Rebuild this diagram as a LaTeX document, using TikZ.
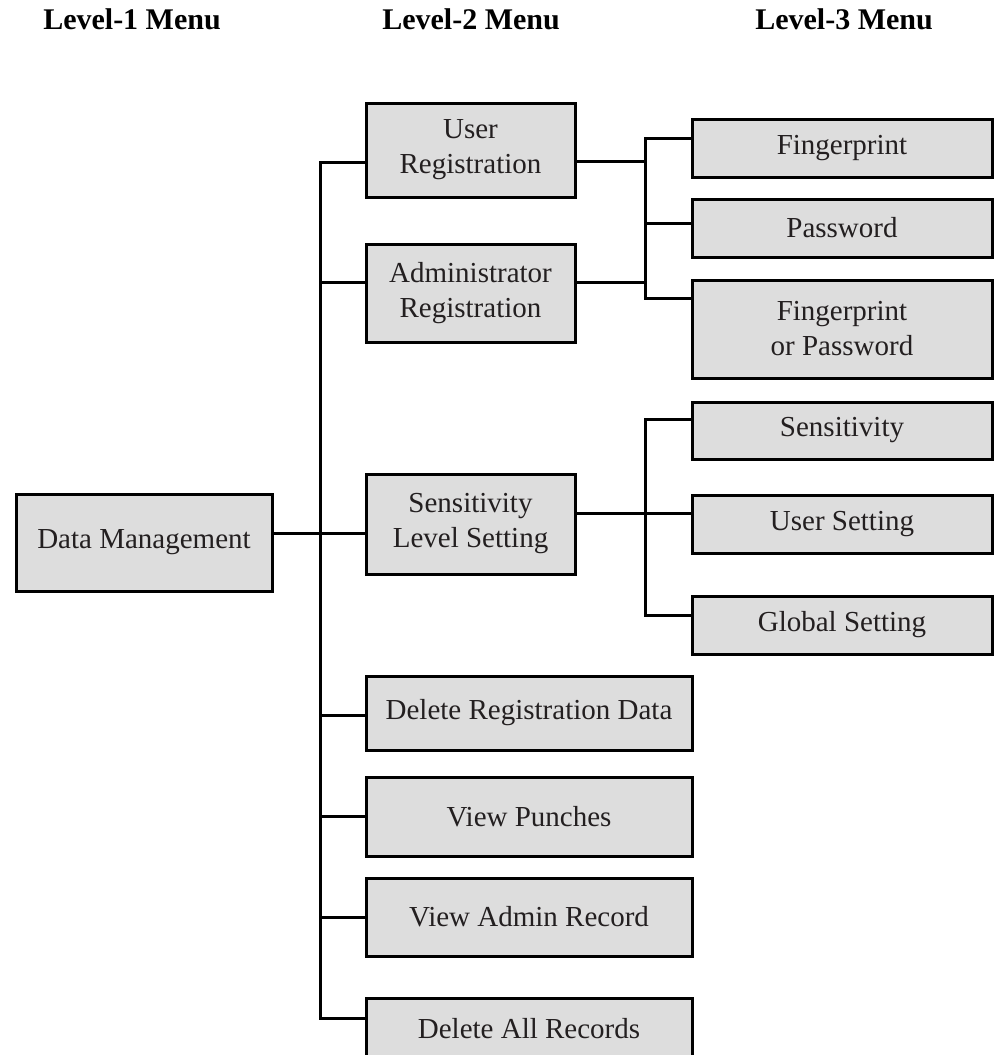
\documentclass[tikz,border=0pt]{standalone}
\usepackage{fontspec}
\setmainfont{Liberation Serif}
\definecolor{boxgray}{HTML}{DDDDDD}
\definecolor{txt}{HTML}{231F20}
\begin{document}
\begin{tikzpicture}[x=1pt,y=-1pt,
  menubox/.style={draw=black, line width=3pt, fill=boxgray, inner sep=0pt,
    align=center, text=txt, font=\fontsize{29}{35}\selectfont},
  head/.style={anchor=base, font=\fontsize{30}{34}\selectfont\bfseries, text=black},
  wire/.style={line width=3pt, line join=miter, line cap=rect}]
\clip (0,0) rectangle (995,1055);
\useasboundingbox (0,0) rectangle (995,1055);

% headers
\node[head] (h1) at (132,29) {Level-1 Menu};
\node[head] (h2) at (471,29) {Level-2 Menu};
\node[head] (h3) at (844,29) {Level-3 Menu};

% level 1
\node[menubox, minimum width=256pt, minimum height=97pt] (dm) at (144,542.5) {Data Management};

% level 2
\node[menubox, minimum width=209pt, minimum height=94pt] (ur) at (470.5,150) {User\\Registration};
\node[menubox, minimum width=209pt, minimum height=98pt] (ar) at (470.5,293) {Administrator\\Registration};
\node[menubox, minimum width=209pt, minimum height=100pt] (sls) at (470.5,524) {Sensitivity\\Level Setting};
\node[menubox, minimum width=326pt, minimum height=74pt] (drd) at (529,713) {Delete Registration Data};
\node[menubox, minimum width=326pt, minimum height=79pt] (vp) at (529,816.5) {View Punches};
\node[menubox, minimum width=326pt, minimum height=78pt] (var) at (529,917) {View Admin Record};
\node[menubox, minimum width=326pt, minimum height=62pt] (dar) at (529,1029) {Delete All Records};

% level 3
\node[menubox, minimum width=300pt, minimum height=58pt] (fp) at (842,148) {Fingerprint};
\node[menubox, minimum width=300pt, minimum height=58pt] (pw) at (842,228) {Password};
\node[menubox, minimum width=300pt, minimum height=98pt] (fop) at (842,329) {Fingerprint\\or Password};
\node[menubox, minimum width=300pt, minimum height=57pt] (sens) at (842,430.5) {Sensitivity};
\node[menubox, minimum width=300pt, minimum height=58pt] (us) at (842,524) {User Setting};
\node[menubox, minimum width=300pt, minimum height=58pt] (gs) at (842,625) {Global Setting};

% junction coordinates
\coordinate (t1) at (320,162);
\coordinate (t2) at (320,282);
\coordinate (tdm) at (320,533);
\coordinate (t4) at (320,715);
\coordinate (t5) at (320,816);
\coordinate (t6) at (320,917);
\coordinate (t7) at (320,1018);
\coordinate (b1) at (645,138);
\coordinate (b2) at (645,223);
\coordinate (b3) at (645,298);
\coordinate (bur) at (645,161);
\coordinate (bar) at (645,282);
\coordinate (c1) at (645,419);
\coordinate (c2) at (645,513);
\coordinate (c3) at (645,615);

% trunk
\draw[wire] (ur.west |- t1) -- (t1) -- (t7) -- (dar.west |- t7);
\draw[wire] (t2) -- (ar.west |- t2);
\draw[wire] (dm.east |- tdm) -- (sls.west |- tdm);
\draw[wire] (t4) -- (drd.west |- t4);
\draw[wire] (t5) -- (vp.west |- t5);
\draw[wire] (t6) -- (var.west |- t6);

% bracket 1
\draw[wire] (fp.west |- b1) -- (b1) -- (b3) -- (fop.west |- b3);
\draw[wire] (b2) -- (pw.west |- b2);
\draw[wire] (ur.east |- bur) -- (bur);
\draw[wire] (ar.east |- bar) -- (bar);

% bracket 2
\draw[wire] (sens.west |- c1) -- (c1) -- (c3) -- (gs.west |- c3);
\draw[wire] (sls.east |- c2) -- (us.west |- c2);
\end{tikzpicture}
\end{document}
